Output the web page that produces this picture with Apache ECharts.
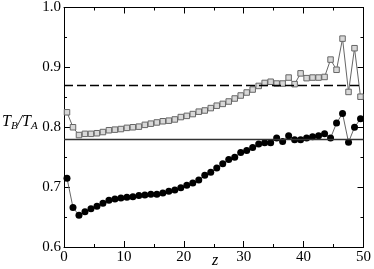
<!DOCTYPE html>
<html>
<head>
<meta charset="utf-8">
<script src="https://cdn.jsdelivr.net/npm/echarts@6/dist/echarts.min.js"></script>
<style>html,body{margin:0;padding:0;background:#fff}#c{width:374px;height:269px}</style>
</head>
<body>
<div id="c"></div>
<script>
var zValues = [0.5,1.5,2.5,3.5,4.5,5.5,6.5,7.5,8.5,9.5,10.5,11.5,12.5,13.5,14.5,15.5,16.5,17.5,18.5,19.5,20.5,21.5,22.5,23.5,24.5,25.5,26.5,27.5,28.5,29.5,30.5,31.5,32.5,33.5,34.5,35.5,36.5,37.5,38.5,39.5,40.5,41.5,42.5,43.5,44.5,45.5,46.5,47.5,48.5,49.5];
var squareSeries = [0.825,0.800,0.787,0.789,0.789,0.790,0.792,0.795,0.796,0.797,0.799,0.800,0.801,0.804,0.806,0.808,0.810,0.811,0.813,0.817,0.819,0.822,0.826,0.828,0.832,0.836,0.839,0.843,0.848,0.853,0.858,0.863,0.869,0.874,0.876,0.873,0.873,0.883,0.872,0.890,0.882,0.883,0.883,0.884,0.913,0.896,0.948,0.859,0.932,0.851];
var circleSeries = [0.715,0.666,0.653,0.659,0.664,0.668,0.673,0.678,0.680,0.682,0.683,0.684,0.686,0.687,0.688,0.688,0.690,0.693,0.695,0.699,0.703,0.707,0.712,0.720,0.725,0.732,0.739,0.746,0.750,0.758,0.761,0.766,0.772,0.774,0.774,0.782,0.776,0.786,0.779,0.779,0.782,0.784,0.786,0.789,0.782,0.807,0.823,0.775,0.800,0.814];
var dashedLevel = 0.871;
var solidLevel = 0.779;
var xTicks = [0,10,20,30,40,50];
var yTicks = [0.6,0.7,0.8,0.9,1.0];

var FONT = '"Liberation Serif", "DejaVu Serif", serif';
var chart = echarts.init(document.getElementById('c'), null, {renderer:'canvas'});
function pair(xs, ys){ return xs.map(function(x,i){ return [x, ys[i]]; }); }
var baseAxis = {
  axisLine:{show:true, onZero:false, lineStyle:{color:'#000', width:1}},
  axisTick:{show:true, inside:true, length:6, lineStyle:{color:'#000', width:1}},
  minorTick:{show:true, splitNumber:2, length:3, lineStyle:{color:'#000', width:1}},
  splitLine:{show:false}
};
function ax(extra){ return Object.assign({}, JSON.parse(JSON.stringify(baseAxis)), extra); }
chart.setOption({
  animation:false,
  backgroundColor:'#fff',
  grid:{left:64, right:7, top:7, bottom:22, containLabel:false},
  xAxis:[
    ax({type:'value', position:'bottom', min:xTicks[0], max:xTicks[xTicks.length-1], interval:10,
      axisLabel:{show:true, color:'#000', fontFamily:FONT, fontSize:15, margin:3,
        formatter:function(v){ return xTicks.indexOf(v)>=0 ? String(v) : ''; }}}),
    ax({type:'value', position:'top', min:0, max:50, interval:10, axisLabel:{show:false}})
  ],
  yAxis:[
    ax({type:'value', position:'left', min:0.6, max:1.0, interval:0.1,
      axisLabel:{show:true, color:'#000', fontFamily:FONT, fontSize:15, margin:3,
        formatter:function(v){ return v.toFixed(1); }}}),
    ax({type:'value', position:'right', min:0.6, max:1.0, interval:0.1, axisLabel:{show:false}})
  ],
  graphic:[
    {type:'text', left:2, top:114, style:{
      rich:{
        i:{fontFamily:FONT, fontStyle:'italic', fontSize:16, fill:'#000'},
        s:{fontFamily:FONT, fontStyle:'italic', fontSize:11, fill:'#000', padding:[8,0,0,0]},
        d:{fontFamily:FONT, fontStyle:'italic', fontSize:16, fill:'#000'}
      },
      text:'{i|T}{s|B}{d|/}{i|T}{s|A}'
    }},
    {type:'text', left:212, top:253, style:{text:'z', fontFamily:FONT, fontStyle:'italic', fontSize:16, fill:'#000'}}
  ],
  series:[
    {type:'line', data:pair(zValues, squareSeries), symbol:'rect', symbolSize:5.5,
      itemStyle:{color:'#d8d8d8', borderColor:'#666', borderWidth:1},
      lineStyle:{color:'#666', width:1},
      markLine:{silent:true, symbol:['none','none'], label:{show:false},
        lineStyle:{color:'#000', width:1.3, type:[9,4]},
        data:[{yAxis:dashedLevel}]}},
    {type:'line', data:pair(zValues, circleSeries), symbol:'circle', symbolSize:7,
      itemStyle:{color:'#000', borderColor:'#000', borderWidth:0},
      lineStyle:{color:'#666', width:1},
      markLine:{silent:true, symbol:['none','none'], label:{show:false},
        lineStyle:{color:'#333', width:1.3, type:'solid'},
        data:[{yAxis:solidLevel}]}}
  ]
});
</script>
</body>
</html>
